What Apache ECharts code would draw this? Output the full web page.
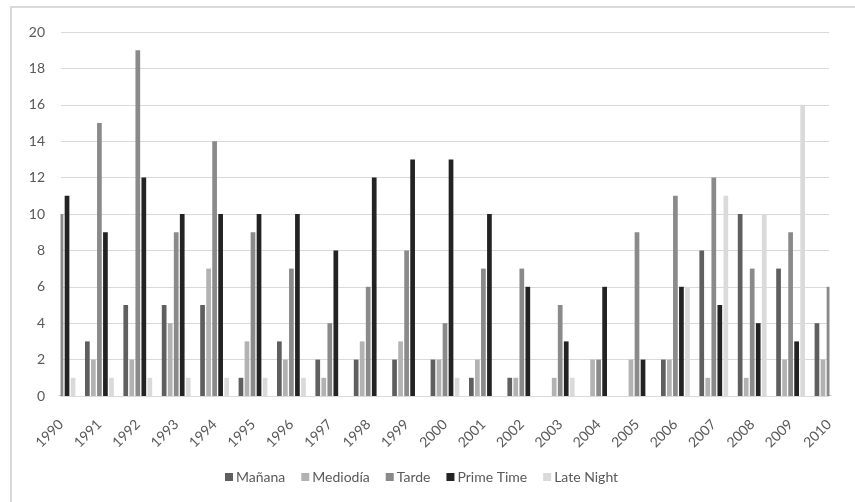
<!DOCTYPE html>
<html>
<head>
<meta charset="utf-8">
<script src="https://cdn.jsdelivr.net/npm/echarts@6/dist/echarts.min.js"></script>
<style>
  html, body { margin: 0; padding: 0; background: #fff; }
  #frame { position: absolute; left: 10px; top: 6px; width: 845px; height: 496px;
           border-left: 2px solid #d9d9d9; border-top: 2px solid #d9d9d9; box-sizing: border-box; }
  #chart { position: absolute; left: 0; top: 0; width: 855px; height: 502px; }
</style>
</head>
<body>
<div id="frame"></div>
<div id="chart"></div>
<script>
// Years on the category axis
const years = ['1990','1991','1992','1993','1994','1995','1996','1997','1998','1999','2000',
               '2001','2002','2003','2004','2005','2006','2007','2008','2009','2010'];

// Programmes per time slot and year
const manana     = [null, 3, 5, 5, 5, 1, 3, 2, 2, 2, 2, 1, 1, 0, 0, 0, 2, 8, 10, 7, 4];
const mediodia   = [null, 2, 2, 4, 7, 3, 2, 1, 3, 3, 2, 2, 1, 1, 2, 2, 2, 1, 1, 2, 2];
const tarde      = [10, 15, 19, 9, 14, 9, 7, 4, 6, 8, 4, 7, 7, 5, 2, 9, 11, 12, 7, 9, 6];
const primeTime  = [11, 9, 12, 10, 10, 10, 10, 8, 12, 13, 13, 10, 6, 3, 6, 2, 6, 5, 4, 3, null];
const lateNight  = [1, 1, 1, 1, 1, 1, 1, 0, 0, 0, 1, 0, 0, 1, 0, 0, 6, 11, 10, 16, null];

const seriesNames = ['Mañana', 'Mediodía', 'Tarde', 'Prime Time', 'Late Night'];
const seriesData = [manana, mediodia, tarde, primeTime, lateNight];
const colors = ['#5f5f5f', '#b2b2b2', '#8a8a8a', '#232323', '#dadada'];

const font = 'Lato, "Open Sans", sans-serif';
const gridLeft = 61, gridRight = 26, gridTop = 32, gridBottom = 106;
const W = 855, H = 502;

const chart = echarts.init(document.getElementById('chart'), null, { renderer: 'canvas' });

chart.setOption({
  animation: false,
  color: colors,
  grid: { left: gridLeft, right: gridRight, top: gridTop, bottom: gridBottom, containLabel: false },
  legend: {
    data: seriesNames,
    left: 220,
    top: 465,
    icon: 'rect',
    itemWidth: 8,
    itemHeight: 8,
    itemGap: 16,
    textStyle: { color: '#595959', fontSize: 14, fontFamily: font, padding: [0, 0, 0, -2] }
  },
  xAxis: {
    type: 'category',
    data: years,
    boundaryGap: false,
    axisLine: { show: true, lineStyle: { color: '#d9d9d9', width: 1 } },
    axisTick: { show: false },
    splitLine: { show: false },
    axisLabel: { rotate: 45, margin: 26, color: '#595959', fontSize: 14, fontFamily: font, interval: 0 }
  },
  yAxis: {
    type: 'value',
    min: 0,
    max: 20,
    interval: 2,
    axisLine: { show: false },
    axisTick: { show: false },
    splitLine: { lineStyle: { color: '#d9d9d9', width: 1 } },
    axisLabel: { margin: 16, color: '#595959', fontSize: 14, fontFamily: font }
  },
  // The plot area cuts off the outer halves of the first and last year groups
  graphic: {
    elements: [
      { type: 'rect', z: 100, silent: true, left: 46, top: gridTop - 4,
        shape: { width: gridLeft - 46 - 0.5, height: H - gridBottom - gridTop + 3.5 },
        style: { fill: '#ffffff' } },
      { type: 'rect', z: 100, silent: true, left: W - gridRight + 0.5, top: gridTop - 4,
        shape: { width: gridRight, height: H - gridBottom - gridTop + 3.5 },
        style: { fill: '#ffffff' } }
    ]
  },
  series: seriesNames.map((name, i) => ({
    name: name,
    type: 'bar',
    data: seriesData[i],
    clip: true,
    barGap: '28%',
    barCategoryGap: '25%',
    itemStyle: { color: colors[i] }
  }))
});
</script>
</body>
</html>
